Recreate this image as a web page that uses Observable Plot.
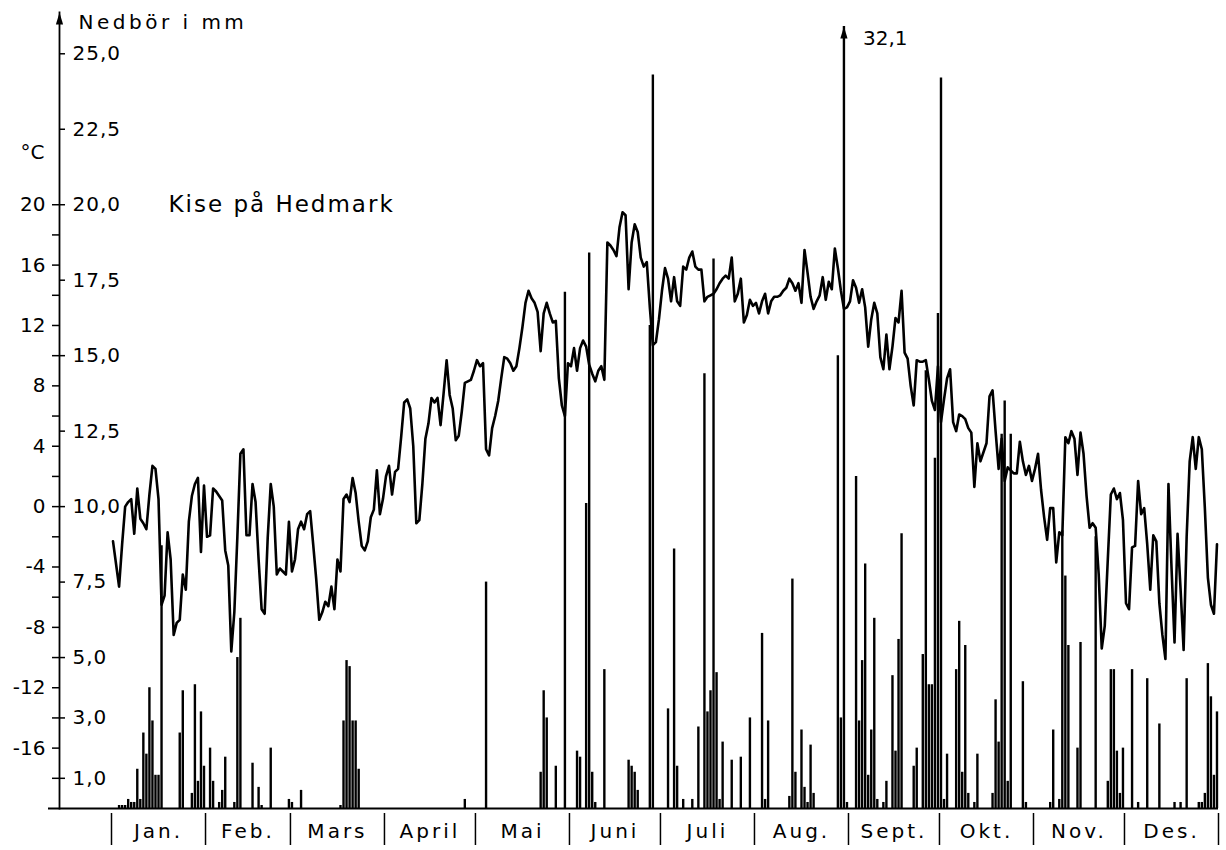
<!DOCTYPE html>
<html>
<head>
<meta charset="utf-8">
<script src="https://cdn.jsdelivr.net/npm/d3@7"></script>
<script src="https://cdn.jsdelivr.net/npm/@observablehq/plot@0.6"></script>
<style>
  body { margin: 0; background: #fff; }
</style>
</head>
<body>
<div id="chart"></div>
<script>
// ---- labels ----
const monthNames = ["Jan.", "Feb.", "Mars", "April", "Mai", "Juni", "Juli", "Aug.", "Sept.", "Okt.", "Nov.", "Des."];
const monthStarts = [0, 31, 59, 90, 120, 151, 181, 212, 243, 273, 304, 334, 365];
const stationTitle = "Kise på Hedmark";
const precipTitle = "Nedbör i mm";
const tempTitle = "°C";
const precipTicks = [1, 3, 5, 7.5, 10, 12.5, 15, 17.5, 20, 22.5, 25];
const tempTicks = [-16, -12, -8, -4, 0, 4, 8, 12, 16, 20];
const tempMinorTicks = [-18, -14, -10, -6, -2, 2, 6, 10, 14, 18];

// ---- daily mean temperature (°C) ----
const tempJan = [-2.3, -3.8, -5.3, -2.5, 0.0, 0.3, 0.5, -1.8, 1.2, -0.8, -1.1, -1.5, 0.8, 2.7, 2.5, 0.5, -6.5, -5.9, -1.7, -3.5, -8.5, -7.7, -7.5, -4.5, -5.5, -1.0, 0.7, 1.5, 1.9, -3.0, 1.4];
const tempFeb = [-2.0, -1.9, 1.2, 1.0, 0.7, 0.4, -2.9, -3.9, -9.6, -7.0, -2.0, 3.5, 3.8, -1.9, -1.9, 1.5, 0.3, -3.5, -6.8, -7.1, -2.1, 1.5, 0.0, -4.5, -4.1, -4.3, -4.5, -1.0];
const tempMar = [-4.3, -3.5, -1.5, -1.0, -1.5, -0.5, -0.3, -2.5, -4.8, -7.5, -7.0, -6.3, -6.6, -5.3, -6.8, -3.5, -4.3, 0.5, 0.8, 0.3, 1.9, 0.9, -1.0, -2.6, -2.9, -2.3, -0.7, -0.2, 2.4, -0.5, 0.5];
const tempApr = [2.0, 2.7, 0.8, 2.3, 2.5, 4.6, 6.9, 7.1, 6.5, 4.0, -1.1, -0.9, 1.5, 4.5, 5.5, 7.2, 6.9, 7.2, 5.4, 7.5, 9.7, 7.4, 6.5, 4.4, 4.7, 6.3, 8.2, 8.3, 8.4, 9.0];
const tempMay = [9.7, 9.3, 9.5, 3.8, 3.4, 5.2, 6.0, 7.0, 8.5, 9.9, 9.8, 9.5, 9.0, 9.3, 10.5, 11.9, 13.5, 14.3, 13.8, 13.5, 12.9, 10.3, 12.8, 13.5, 12.8, 12.2, 12.3, 8.5, 6.7, 6.0, 9.5];
const tempJun = [9.3, 10.5, 9.0, 10.5, 11.0, 10.6, 9.4, 8.8, 8.3, 9.0, 9.3, 8.4, 17.5, 17.3, 17.0, 16.6, 18.5, 19.5, 19.3, 14.4, 17.5, 18.7, 18.2, 16.5, 15.9, 16.2, 13.2, 10.7, 10.9, 12.4];
const tempJul = [14.3, 15.8, 15.1, 13.6, 15.2, 13.6, 13.3, 15.9, 15.7, 16.5, 16.9, 15.9, 15.7, 15.7, 13.6, 13.9, 14.0, 14.1, 14.4, 14.8, 15.1, 15.3, 15.1, 16.5, 13.6, 14.1, 15.1, 12.2, 12.7, 13.7, 13.3];
const tempAug = [13.5, 12.8, 13.6, 14.1, 12.8, 13.6, 13.9, 13.9, 14.0, 14.3, 14.5, 15.1, 14.8, 14.3, 14.8, 13.5, 17.0, 15.5, 13.9, 13.1, 13.6, 14.0, 15.2, 13.7, 14.9, 14.4, 17.1, 15.8, 14.3, 13.1, 13.2];
const tempSep = [13.6, 15.0, 14.5, 13.5, 14.4, 13.2, 10.6, 12.4, 13.5, 12.8, 9.9, 9.1, 11.4, 9.1, 10.6, 12.5, 12.2, 14.3, 10.2, 9.8, 8.0, 6.7, 9.7, 9.6, 9.6, 9.7, 8.4, 7.0, 6.4, 9.3];
const tempOct = [5.6, 7.1, 8.5, 9.1, 5.6, 5.0, 6.1, 6.0, 5.8, 5.2, 4.9, 1.3, 4.2, 3.0, 3.6, 4.2, 7.3, 7.7, 5.0, 2.5, 4.5, 1.7, 2.6, 2.4, 2.2, 2.2, 4.3, 3.0, 2.1, 2.7, 1.7];
const tempNov = [2.5, 3.5, 1.1, -0.7, -2.2, -0.1, -0.1, -3.7, -1.7, -1.9, 4.6, 4.2, 5.0, 4.5, 2.1, 4.9, 3.5, 0.7, -1.4, -1.1, -1.4, -4.5, -9.4, -7.9, -3.5, 0.8, 1.2, 0.5, 0.9, -0.9];
const tempDec = [-6.4, -6.8, -2.7, -2.6, 1.7, -0.5, -0.1, -2.5, -5.5, -1.9, -2.3, -6.4, -8.5, -10.1, 1.5, -4.0, -9.0, -1.8, -5.5, -9.5, -2.0, 3.0, 4.6, 2.5, 4.6, 3.8, -0.1, -4.7, -6.5, -7.1, -2.5];

// ---- daily precipitation (day of year, 0-based) and amount in mm ----
const precipDay = [2, 3, 4, 5, 6, 7, 8, 9, 10, 11, 12, 13, 14, 15, 16,
  22, 23, 26, 27, 28, 29, 30, 32, 33, 35, 36, 37,
  40, 41, 42, 46, 48, 49, 52, 58, 59, 62,
  75, 76, 77, 78, 79, 80, 81,
  116,
  123,
  141, 142, 143, 146, 149, 153, 154, 156, 157, 158, 159, 162,
  170, 171, 172, 173, 177, 178,
  183, 185, 186, 188, 191, 193, 195, 196, 197, 198, 199, 200, 201, 204, 207, 210, 214, 215, 216,
  223, 224, 225, 227, 228, 229, 230, 231,
  239, 240, 241, 242,
  245, 246, 247, 248, 249, 250, 251, 252, 254, 255, 257, 258, 259, 260,
  264, 265, 267, 268, 269, 270, 271, 272, 273, 274, 275,
  278, 279, 280, 281, 282, 284, 285,
  290, 291, 292, 293, 294, 295, 296, 300, 301,
  309, 310, 312, 313, 314, 315, 318, 319, 324,
  328, 329, 330, 331, 332, 333, 336, 338, 341, 345,
  350, 352, 354, 358, 359, 360, 361, 362, 363, 364];
const precipMm = [0.1, 0.1, 0.1, 0.3, 0.2, 0.2, 1.3, 0.3, 2.5, 1.8, 4.0, 2.9, 1.1, 1.1, 8.7,
  2.5, 3.9, 0.5, 4.1, 0.9, 3.2, 1.4, 2.0, 0.9, 0.2, 0.6, 1.7,
  0.2, 5.0, 6.3, 1.5, 0.7, 0.1, 2.0, 0.3, 0.2, 0.6,
  0.1, 2.9, 4.9, 4.7, 2.9, 2.9, 1.3,
  0.3,
  7.5,
  1.2, 3.9, 3.0, 1.4, 17.1, 1.9, 1.7, 10.1, 18.4, 1.2, 0.2, 4.6,
  1.6, 1.4, 1.2, 0.6, 16.0, 24.3,
  3.3, 8.6, 1.4, 0.3, 0.3, 2.7, 14.4, 3.2, 3.9, 18.2, 4.5, 0.3, 2.2, 1.6, 1.7, 3.0, 5.8, 0.3, 2.9,
  0.4, 7.6, 1.2, 2.6, 0.7, 0.2, 2.1, 0.5,
  15.0, 3.0, 32.1, 0.2,
  11.0, 2.9, 4.9, 8.1, 1.1, 2.6, 6.3, 0.3, 0.2, 0.9, 4.4, 1.9, 5.6, 9.1,
  1.4, 2.0, 5.1, 14.5, 4.1, 4.1, 11.6, 16.4, 24.2, 0.3, 1.8,
  4.6, 6.2, 1.2, 5.4, 0.5, 0.2, 1.8,
  0.5, 3.6, 2.2, 12.4, 13.5, 0.9, 12.4, 4.2, 0.2,
  0.2, 2.6, 0.3, 9.2, 7.7, 5.4, 2.0, 5.5, 9.0,
  0.9, 4.6, 4.6, 1.9, 0.5, 2.0, 4.6, 0.2, 4.3, 2.8,
  0.2, 0.2, 4.3, 0.2, 0.2, 0.5, 4.8, 3.7, 1.1, 3.2];

// ---- build ----
const temps = [...tempJan, ...tempFeb, ...tempMar, ...tempApr, ...tempMay, ...tempJun,
  ...tempJul, ...tempAug, ...tempSep, ...tempOct, ...tempNov, ...tempDec];
const W = 1226, H = 850, ML = 59, MR = 8, MT = 12, MB = 42;
const yMax = 26.5;   // top of the mm scale
const cap = 25.9;    // bars above this are cut with an arrow
const toMm = t => t / 2 + 10;   // °C scale: 0 °C = 10 mm, 2 °C per mm
const comma = v => v.toFixed(1).replace(".", ",");

const tempData = temps.map((t, i) => ({day: i + 0.5, mm: toMm(t)}));
const precip = precipDay.map((d, i) => ({day: d + 0.5, mm: precipMm[i]}));
const shown = precip.map(p => ({...p, top: Math.min(p.mm, cap)}));
const clipped = precip.filter(p => p.mm > cap);
const monthMid = monthNames.map((m, i) => ({name: m, day: (monthStarts[i] + monthStarts[i + 1]) / 2}));

const arrowHead = {draw(ctx) { ctx.moveTo(0, 0); ctx.lineTo(3.6, 12); ctx.lineTo(-3.6, 12); ctx.closePath(); }};

const chart = Plot.plot({
  width: W, height: H,
  marginLeft: ML, marginRight: MR, marginTop: MT, marginBottom: MB,
  x: {domain: [0, 365], range: [111, 1218]},
  y: {domain: [0, yMax], range: [H - MB, 8]},
  style: {fontFamily: "'DejaVu Sans', sans-serif", fontSize: "20px", color: "black", background: "white", overflow: "visible"},
  marks: [
    Plot.ruleX(shown, {x: "day", y1: 0, y2: "top", stroke: "black", strokeWidth: 2.4}),
    Plot.line(tempData, {x: "day", y: "mm", stroke: "black", strokeWidth: 2.6, strokeLinejoin: "round"}),
    Plot.dot(clipped, {x: "day", y: () => cap, symbol: arrowHead, fill: "black", stroke: null}),
    Plot.text(clipped, {x: "day", y: () => cap, text: d => comma(d.mm), dx: 19, dy: 12, textAnchor: "start", fontSize: 20}),
    Plot.frame({anchor: "left", strokeWidth: 1.8}),
    Plot.dot([0], {frameAnchor: "top-left", symbol: arrowHead, fill: "black", stroke: null}),
    Plot.ruleY([0], {insetLeft: -11, strokeWidth: 1.8}),
    Plot.axisY(tempTicks.map(toMm), {anchor: "left", tickSize: 7, tickPadding: 7, strokeWidth: 1.5,
      tickFormat: m => String((m - 10) * 2), fontSize: 20, label: null}),
    Plot.axisY(tempMinorTicks.map(toMm), {anchor: "left", tickSize: 7, strokeWidth: 1.5, tickFormat: () => "", label: null}),
    Plot.ruleY(precipTicks, {insetRight: W - MR - ML - 6, strokeWidth: 1.5}),
    Plot.text(precipTicks, {y: d => d, frameAnchor: "left", text: comma, dx: 13, textAnchor: "start", fontSize: 20, className: "ls1"}),
    Plot.axisX(monthStarts, {tickSize: 32, dy: 5, strokeWidth: 1.5, tickFormat: () => "", label: null}),
    Plot.text(monthMid, {x: "day", text: "name", frameAnchor: "bottom", lineAnchor: "middle", dy: 23, fontSize: 20, className: "ls3"}),
    Plot.text([stationTitle], {frameAnchor: "top-left", lineAnchor: "middle", dx: 109, dy: 204 - MT, textAnchor: "start", fontSize: 23, className: "ls2"}),
    Plot.text([precipTitle], {frameAnchor: "top-left", lineAnchor: "middle", dx: 19, dy: 22 - MT, textAnchor: "start", fontSize: 20, className: "ls35"}),
    Plot.text([tempTitle], {frameAnchor: "top-left", lineAnchor: "middle", dx: -39, dy: 152 - MT, textAnchor: "start", fontSize: 20})
  ]
});
document.getElementById("chart").append(chart);

// letter spacing of the hand-lettered labels
const spacing = new Map([[stationTitle, 2], [precipTitle, 3.5]]);
monthNames.forEach(m => spacing.set(m, 3));
precipTicks.forEach(t => spacing.set(comma(t), 1));
d3.select(chart).selectAll("text").each(function() {
  const s = spacing.get(this.textContent);
  if (s !== undefined) this.style.letterSpacing = s + "px";
});
</script>
</body>
</html>
